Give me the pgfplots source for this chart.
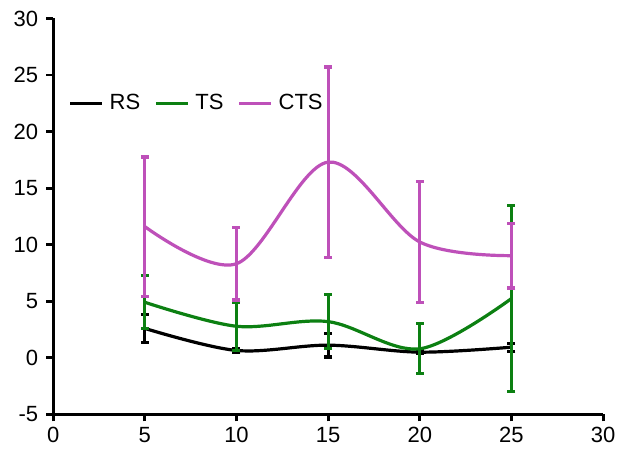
\documentclass[border={3.5pt 0pt 0pt 2pt}]{standalone}
\usepackage{fontspec}
\setmainfont{Liberation Sans}
\usepackage{pgfplots}
\pgfplotsset{compat=1.18}
\definecolor{tsgreen}{RGB}{12,128,18}
\definecolor{ctspink}{RGB}{190,80,185}
\begin{document}
\begin{tikzpicture}[x=1pt,y=1pt]
\begin{axis}[
  scale only axis,
  width=275pt, height=198pt,
  xmin=0, xmax=30, ymin=-5, ymax=30,
  xtick={0,5,...,30}, ytick={-5,0,...,30},
  axis x line=bottom, axis y line=left,
  axis line style={line width=1.4pt,-},
  tick style={black,line width=1.4pt},
  major tick length=3.5pt,
  tick align=outside,
  tick label style={font=\fontsize{11}{13}\selectfont},
  /pgf/number format/assume math mode=true,
  yticklabel style={xshift=-0.5pt},
  xticklabel style={yshift=0.5pt},
  every axis plot/.append style={line width=1.6pt, smooth, tension=0.55},
  error bars/error bar style={line width=1.6pt},
  error bars/error mark options={rotate=90, mark size=2pt, line width=1.6pt},
  legend style={draw=none, fill=none, inner sep=0pt, at={(0.027,0.785)}, anchor=west,
    font=\fontsize{11}{13}\selectfont, nodes={inner xsep=0pt},
    /tikz/every odd column/.append style={column sep=3pt},
    /tikz/every even column/.append style={column sep=7pt}},
  legend columns=3,
  legend image code/.code={\draw[#1, line width=1.6pt] (0pt,0pt) -- (16pt,0pt);},
  clip=false,
]
% mean values with symmetric error ranges
\addplot[black, error bars/.cd, y dir=both, y explicit]
  coordinates {(5,2.6) +- (0,1.25) (10,0.65) +- (0,0.2) (15,1.12) +- (0,1.05)
               (20,0.5) +- (0,0.15) (25,0.94) +- (0,0.35)};
\addlegendentry{RS}
\addplot[tsgreen, error bars/.cd, y dir=both, y explicit]
  coordinates {(5,4.91) +- (0,2.35) (10,2.79) +- (0,2.15) (15,3.2) +- (0,2.4)
               (20,0.8) +- (0,2.2) (25,5.24) +- (0,8.2)};
\addlegendentry{TS}
\addplot[ctspink, error bars/.cd, y dir=both, y explicit]
  coordinates {(5,11.6) +- (0,6.15) (10,8.32) +- (0,3.2) (15,17.3) +- (0,8.4)
               (20,10.24) +- (0,5.35) (25,9.03) +- (0,2.85)};
\addlegendentry{CTS}
\end{axis}
\end{tikzpicture}
\end{document}
